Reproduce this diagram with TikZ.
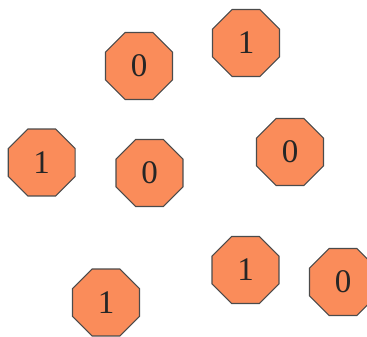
\documentclass[tikz,border=0pt]{standalone}
\usepackage{fontspec}
\setmainfont{Liberation Serif}
\usetikzlibrary{shapes.geometric}
\definecolor{octfill}{RGB}{250,140,90}
\definecolor{octline}{RGB}{75,75,75}
\tikzset{
  oct/.style={regular polygon, regular polygon sides=8, minimum size=72.5pt,
    inner sep=0pt, fill=octfill, draw=octline, line width=1.1pt,
    font=\fontsize{33}{33}\selectfont, text=black!85}
}
\begin{document}
\begin{tikzpicture}[x=1pt,y=1pt]
  \useasboundingbox (0,0) rectangle (367,337);
  \node[oct] (a) at (139,271) {0};
  \node[oct] (b) at (246,294) {1};
  \node[oct] (c) at (41.7,174.5) {1};
  \node[oct] (d) at (149.5,164) {0};
  \node[oct] (e) at (290,185) {0};
  \node[oct] (f) at (245.5,67) {1};
  \node[oct] (g) at (106,34.5) {1};
  \node[oct] (h) at (343,55) {0};
\end{tikzpicture}
\end{document}
